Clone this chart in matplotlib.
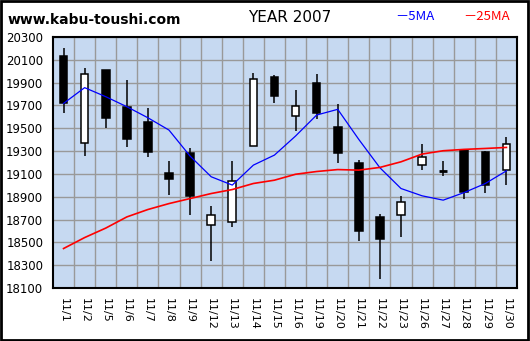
import numpy as np
import matplotlib
matplotlib.use("Agg")
import matplotlib.pyplot as plt
from matplotlib.patches import Rectangle

plt.rcParams['font.family'] = ['DejaVu Sans', 'Noto Sans CJK JP']

# daily prices, November 2007
dates = ["11/1", "11/2", "11/5", "11/6", "11/7", "11/8", "11/9", "11/12", "11/13", "11/14", "11/15",
         "11/16", "11/19", "11/20", "11/21", "11/22", "11/23", "11/26", "11/27", "11/28", "11/29", "11/30"]
opens  = [20133, 19367, 20011, 19686, 19554, 19107, 19282, 18648, 18680, 19341, 19949,
          19604, 19896, 19511, 19195, 18718, 18744, 19174, 19130, 19312, 19291, 19136]
highs  = [20203, 20025, 20011, 19923, 19674, 19212, 19326, 18818, 19209, 19984, 19967,
          19835, 19975, 19712, 19221, 18747, 18905, 19361, 19212, 19312, 19297, 19423]
lows   = [19636, 19259, 19505, 19338, 19250, 18917, 18741, 18338, 18636, 19341, 19724,
          19478, 19584, 19198, 18513, 18180, 18549, 19136, 19081, 18884, 18932, 19002]
closes = [19724, 19973, 19592, 19402, 19294, 19057, 18909, 18736, 19034, 19929, 19785,
          19692, 19638, 19285, 18601, 18531, 18850, 19244, 19125, 18940, 19005, 19358]
ma5  = [19718, 19856, 19777, 19689, 19592, 19484, 19256, 19075, 19002, 19177, 19265,
        19432, 19616, 19666, 19402, 19154, 18972, 18908, 18870, 18937, 19016, 19127]
ma25 = [18446, 18542, 18625, 18723, 18788, 18840, 18884, 18928, 18963, 19016, 19045,
        19097, 19121, 19138, 19133, 19157, 19206, 19274, 19303, 19315, 19323, 19332]
yticks = list(range(18100, 20301, 200))

fig = plt.figure(figsize=(5.30, 3.41), dpi=100)
fig.patch.set_facecolor("white")
fig.patches.append(Rectangle((0.001, 0.002), 0.996, 0.995, transform=fig.transFigure,
                             fill=False, edgecolor="black", linewidth=2.0))

ax = fig.add_axes([53/530, 53/341, 464/530, 251/341])
ax.set_facecolor("#C6D9F1")

x = np.arange(len(dates))
w = 0.36
for i in x:
    o, h, l, c = opens[i], highs[i], lows[i], closes[i]
    ax.vlines(i, l, h, color="black", linewidth=1.1, zorder=3)
    lo, hi = min(o, c), max(o, c)
    face = "white" if c >= o else "black"
    if hi - lo < 8:
        ax.hlines((o + c) / 2, i - w / 2, i + w / 2, color="black", linewidth=2, zorder=4)
    else:
        ax.add_patch(Rectangle((i - w / 2, lo), w, hi - lo, facecolor=face,
                               edgecolor="black", linewidth=1.1, zorder=4))

ax.plot(x, ma5, color="blue", linewidth=0.9, zorder=5)
ax.plot(x, ma25, color="red", linewidth=1.2, zorder=5)

ax.set_xlim(-0.5, len(dates) - 0.5)
ax.set_ylim(18100, 20300)
ax.set_yticks(yticks)
ax.set_yticklabels([str(v) for v in yticks], fontsize=8.5)
ax.set_xticks(x)
ax.set_xticklabels(dates, rotation=-90, fontsize=8, va="top")
ax.set_xticks(np.arange(0.5, len(dates) - 0.5), minor=True)
ax.tick_params(axis="x", which="both", length=0, pad=7)
ax.tick_params(axis="y", which="both", length=0, pad=7)
ax.grid(True, which="minor", axis="x", color="#999999", linewidth=1.0)
ax.grid(True, which="major", axis="y", color="#999999", linewidth=1.0)
ax.set_axisbelow(True)
for s in ax.spines.values():
    s.set_linewidth(1.5)

fig.text(8/530, 1 - 20/341, "www.kabu-toushi.com", fontsize=10, fontweight="bold", va="center")
fig.text(290/530, 1 - 17/341, "YEAR 2007", fontsize=11, ha="center", va="center")
fig.text(395/530, 1 - 17/341, "－5MA", fontsize=9.5, color="blue", va="center",
         family=["Noto Sans CJK JP", "DejaVu Sans"])
fig.text(463/530, 1 - 17/341, "－25MA", fontsize=9.5, color="red", va="center",
         family=["Noto Sans CJK JP", "DejaVu Sans"])

fig.savefig("out.png", dpi=100)
